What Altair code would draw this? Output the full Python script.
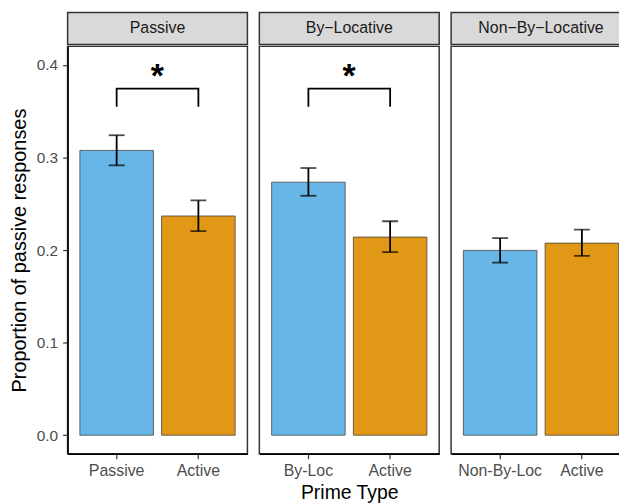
import altair as alt
import pandas as pd

# ---- data ----
panel_titles = ["Passive", "By\u2212Locative", "Non\u2212By\u2212Locative"]
prime_labels = [["Passive", "Active"], ["By-Loc", "Active"], ["Non-By-Loc", "Active"]]
conditions = ["Target", "Active"]
means = [[0.3076, 0.2368], [0.2733, 0.2140], [0.1996, 0.2075]]
lows = [[0.2915, 0.2204], [0.2586, 0.1978], [0.1864, 0.1936]]
highs = [[0.3240, 0.2536], [0.2886, 0.2311], [0.2129, 0.2221]]
significant = [True, True, False]
bracket_low = 0.3548
bracket_top = 0.3744
star_y = 0.393
y_ticks = [0.0, 0.1, 0.2, 0.3, 0.4]

BLUE = "#67B6E7"
ORANGE = "#E29817"
FONT = "Liberation Sans"
PW, PH, SH = 181, 410, 32


def panel(i):
    df = pd.DataFrame({
        "prime": prime_labels[i],
        "mean": means[i],
        "lo": lows[i],
        "hi": highs[i],
        "cond": conditions,
    })
    xaxis = alt.Axis(
        tickSize=5, labelPadding=3.5, labelFontSize=16, labelColor="#4D4D4D",
        tickColor="#333333", tickWidth=1.2, domainColor="black", domainWidth=1.5, labelAngle=0,
        titleFontSize=19.5, titleFontWeight="normal", titleColor="black", titlePadding=6,
        labelFont=FONT, titleFont=FONT,
    )
    xsort = prime_labels[i]
    x = alt.X("prime:N", sort=xsort,
              scale=alt.Scale(paddingInner=0.1, paddingOuter=0.15),
              axis=xaxis, title=("Prime Type" if i == 1 else None))
    yscale = alt.Scale(domain=[-0.02, 0.42], nice=False, zero=False)
    if i == 0:
        y = alt.Y("mean:Q", scale=yscale, title="Proportion of passive responses",
                  axis=alt.Axis(values=y_ticks, format=".1f", tickSize=5,
                                labelPadding=5, labelFontSize=15.5, labelColor="#4D4D4D",
                                tickColor="#333333", tickWidth=1.2, domainColor="black", domainWidth=1.5,
                                titleFontSize=20, titleFontWeight="normal", titleColor="black",
                                titlePadding=7, grid=False, labelFont=FONT, titleFont=FONT))
    else:
        y = alt.Y("mean:Q", scale=yscale, axis=None)

    base = alt.Chart(df)
    bars = base.mark_bar(stroke="#333333", strokeWidth=0.7).encode(
        x=x, y=y, y2=alt.datum(0),
        color=alt.Color("cond:N", scale=alt.Scale(domain=conditions, range=[BLUE, ORANGE]), legend=None),
    )
    err = base.mark_rule(color="black", strokeWidth=1.8).encode(
        x=alt.X("prime:N", sort=xsort), y="lo:Q", y2="hi:Q")
    cap_lo = base.mark_tick(color="black", size=16, thickness=1.8).encode(
        x=alt.X("prime:N", sort=xsort), y="lo:Q")
    cap_hi = base.mark_tick(color="black", size=16, thickness=1.8).encode(
        x=alt.X("prime:N", sort=xsort), y="hi:Q")
    layers = [bars, err, cap_lo, cap_hi]
    if significant[i]:
        p, a = prime_labels[i]
        br = pd.DataFrame({"prime": [p, p, a, a],
                           "y": [bracket_low, bracket_top, bracket_top, bracket_low],
                           "o": [0, 1, 2, 3]})
        bracket = alt.Chart(br).mark_line(color="black", strokeWidth=1.8).encode(
            x=alt.X("prime:N", sort=xsort), y="y:Q", order="o:Q")
        st = pd.DataFrame({"prime": [p], "y": [star_y], "t": ["*"]})
        star = alt.Chart(st).mark_text(dx=41, dy=16, fontSize=34, fontWeight="bold",
                                       color="black", font=FONT, baseline="alphabetic").encode(
            x=alt.X("prime:N", sort=xsort), y="y:Q", text="t:N")
        layers += [bracket, star]
    main = alt.layer(*layers).properties(
        width=PW, height=PH,
        view=alt.ViewBackground(fill="white", stroke="#333333", strokeWidth=1.5))

    strip = alt.Chart(pd.DataFrame({"label": [panel_titles[i]]})).mark_text(
        fontSize=16, color="#1A1A1A", font=FONT, baseline="middle").encode(
        text="label:N", x=alt.value(PW / 2), y=alt.value(SH / 2)).properties(
        width=PW, height=SH,
        view=alt.ViewBackground(fill="#D9D9D9", stroke="#333333", strokeWidth=1.5))
    return alt.vconcat(strip, main, spacing=0)


chart = alt.hconcat(panel(0), panel(1), panel(2), spacing=10).properties(
    padding={"left": 0, "top": 2, "right": -13, "bottom": 0}
).configure(font=FONT)

chart.save("out.html", embed_options={"renderer": "svg", "actions": False})
